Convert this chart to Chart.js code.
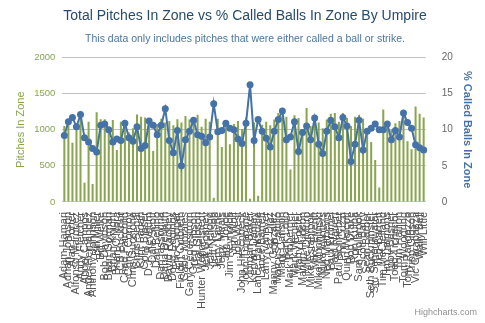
<!DOCTYPE html>
<html>
<head>
<meta charset="utf-8">
<script src="https://cdn.jsdelivr.net/npm/chart.js@4/dist/chart.umd.min.js"></script>
<style>
  html, body { margin: 0; padding: 0; background: #fff; }
  #wrap { width: 485px; height: 323px; position: relative; }
</style>
</head>
<body>
<div id="wrap"><canvas id="umpChart"></canvas></div>
<script>
'use strict';

// --- DATA ---
const umpires = [
    'Adam Hamari', 'Adrian Johnson', 'Alan Porter', 'Alfonso Marquez', 'Andy Fletcher',
    'Angel Campos', 'Angel Hernandez', 'Anthony Johnson', 'Bill Miller', 'Bill Welke',
    'Bob Davidson', 'Brian Gorman', 'Brian Knight', "Brian O'Nora", 'CB Bucknor',
    'Chad Fairchild', 'Chris Conroy', 'Chris Guccione', 'Chris Segal', 'Clint Fagan',
    'Cory Blaser', 'D.J. Reyburn', 'Dale Scott', 'Dan Bellino', 'Dan Iassogna',
    'Dana DeMuth', 'David Rackley', 'Doug Eddings', 'Eric Cooper', 'Fieldin Culbreth',
    'Gabe Morales', 'Gary Cederstrom', 'Greg Gibson', 'Hal Gibson', 'Hunter Wendelstedt',
    'Jeff Gosney', 'Jeff Kellogg', 'Jeff Nelson', 'Jerry Layne', 'Jerry Meals',
    'Jim Joyce', 'Jim Reynolds', 'Jim Wolf', 'Joe West', 'John Hirschbeck',
    'John Tumpane', 'Jordan Baker', 'Kerwin Danley', 'Lance Barksdale', 'Lance Barrett',
    'Larry Vanover', 'Laz Diaz', 'Manny Gonzalez', 'Marcus Pattillo', 'Mark Carlson',
    'Mark Lollo', 'Mark Ripperger', 'Mark Wegner', 'Marty Foster', 'Marvin Hudson',
    'Mike DiMuro', 'Mike Estabrook', 'Mike Everitt', 'Mike Muchlinski', 'Mike Winters',
    'Ned Mathews', 'Paul Emmel', 'Paul Nauert', 'Paul Schrieber', 'Phil Cuzzi',
    'Quinn Wolcott', 'Rob Drake', 'Ron Kulpa', 'Sam Holbrook', 'Scott Barry',
    'Sean Barber', 'Seth Buckminster', 'Stu Scheurwater', 'Ted Barrett', 'Tim McClelland',
    'Tim Timmons', 'Toby Basner', 'Todd Tichenor', 'Tom Hallion', 'Tom Woodring',
    'Tony Randazzo', 'Tripp Gibson', 'Vic Carapazza', 'Wally Bell', 'Will Little'
];

const pitchesInZone = [
    1050, 1150, 820, 1070, 1240, 265, 1110, 250, 1240, 1145,
    1145, 1030, 1135, 720, 1110, 1075, 960, 1020, 1210, 1180,
    1170, 1160, 706, 1080, 1150, 1100, 1120, 1060, 1145, 1100,
    1190, 1140, 1170, 1205, 1040, 1150, 1110, 60, 1150, 760,
    1130, 800, 1080, 1120, 1010, 1170, 45, 1100, 85, 1070,
    1110, 1060, 1140, 1230, 1190, 1180, 450, 1200, 1160, 1000,
    1300, 1050, 1135, 1100, 1020, 1140, 1220, 1230, 1110, 1230,
    1160, 1050, 1180, 1200, 1150, 1020, 830, 580, 200, 1280,
    1060, 1000, 1090, 1120, 1230, 840, 730, 1320, 1220, 1170
];

const calledBallPct = [
    9.2, 11.1, 11.7, 10.4, 12.1, 8.9, 8.3, 7.4, 6.9, 10.6,
    10.8, 10.0, 8.3, 8.7, 8.5, 10.9, 8.9, 8.4, 10.4, 7.4,
    7.8, 11.2, 10.6, 9.3, 10.6, 12.9, 8.5, 6.8, 9.9, 5.0,
    8.6, 9.8, 11.3, 9.3, 9.1, 8.2, 9.0, 13.6, 9.7, 9.9,
    10.9, 10.2, 10.0, 8.7, 8.1, 10.9, 16.2, 8.5, 11.4, 9.8,
    8.8, 7.6, 9.8, 11.4, 12.6, 8.6, 9.0, 11.1, 7.0, 9.6,
    10.5, 8.6, 11.6, 8.0, 6.7, 9.8, 11.3, 10.4, 8.9, 11.7,
    10.5, 5.6, 8.0, 11.3, 7.2, 9.8, 10.2, 10.8, 10.0, 10.0,
    10.8, 8.6, 9.9, 9.0, 12.3, 11.0, 10.2, 7.9, 7.5, 7.2
];

const pitchTicks = [0, 500, 1000, 1500, 2000];
const pctTicks = [0, 5, 10, 15, 20];

const FONT = '"Liberation Sans", Arial, sans-serif';

// "Highcharts.com" credit, bottom right
const creditsPlugin = {
    id: 'credits',
    afterDraw(chart) {
        const ctx = chart.ctx;
        ctx.save();
        ctx.font = '9px ' + FONT;
        ctx.fillStyle = '#909090';
        ctx.textAlign = 'right';
        ctx.textBaseline = 'alphabetic';
        ctx.fillText('Highcharts.com', chart.width - 8, chart.height - 8);
        ctx.restore();
    }
};

const ctx = document.getElementById('umpChart').getContext('2d');
new Chart(ctx, {
    type: 'bar',
    data: {
        labels: umpires,
        datasets: [
            {
                type: 'line',
                label: '% Called Balls In Zone',
                data: calledBallPct,
                yAxisID: 'y1',
                borderColor: '#4572A7',
                backgroundColor: '#4572A7',
                borderWidth: 2,
                pointRadius: 3.5,
                pointBackgroundColor: '#4572A7',
                pointBorderColor: '#4572A7',
                pointBorderWidth: 0,
                tension: 0,
                order: 0
            },
            {
                type: 'bar',
                label: 'Pitches In Zone',
                data: pitchesInZone,
                yAxisID: 'y',
                backgroundColor: '#89A54E',
                barPercentage: 0.5,
                categoryPercentage: 1,
                order: 1
            }
        ]
    },
    options: {
        responsive: true,
        maintainAspectRatio: false,
        animation: false,
        layout: { padding: { left: 14, right: 9, top: 0, bottom: 12 } },
        plugins: {
            legend: { display: false },
            tooltip: { enabled: false },
            title: {
                display: true,
                text: 'Total Pitches In Zone vs % Called Balls In Zone By Umpire',
                color: '#274b6d',
                font: { family: FONT, size: 14, weight: 'normal' },
                padding: { top: 8, bottom: 8 }
            },
            subtitle: {
                display: true,
                text: 'This data only includes pitches that were either called a ball or strike.',
                color: '#4d759e',
                font: { family: FONT, size: 10.5, weight: 'normal' },
                padding: { top: 0, bottom: 12 }
            }
        },
        scales: {
            x: {
                offset: true,
                grid: { display: false },
                border: { color: '#C0D0E0' },
                ticks: {
                    autoSkip: false,
                    minRotation: 90,
                    maxRotation: 90,
                    color: '#555',
                    padding: 2,
                    font: { family: FONT, size: 11 }
                }
            },
            y: {
                position: 'left',
                min: 0,
                max: 2000,
                afterBuildTicks: axis => { axis.ticks = pitchTicks.map(v => ({ value: v })); },
                grid: { color: '#C0C0C0', drawTicks: false },
                border: { display: false },
                ticks: {
                    color: '#89A54E',
                    padding: 7,
                    font: { family: FONT, size: 9.5 },
                    callback: v => String(v)
                },
                title: {
                    display: true,
                    text: 'Pitches In Zone',
                    color: '#89A54E',
                    font: { family: FONT, size: 11 },
                    padding: { top: 0, bottom: 0 }
                }
            },
            y1: {
                position: 'right',
                min: 0,
                max: 20,
                afterBuildTicks: axis => { axis.ticks = pctTicks.map(v => ({ value: v })); },
                grid: { display: false },
                border: { display: false },
                ticks: {
                    color: '#666',
                    padding: 8,
                    font: { family: FONT, size: 10 },
                    callback: v => String(v)
                },
                title: {
                    display: true,
                    text: '% Called Balls In Zone',
                    color: '#4572A7',
                    font: { family: FONT, size: 11, weight: 'bold' },
                    padding: { top: 2, bottom: 0 }
                }
            }
        }
    },
    plugins: [creditsPlugin]
});
</script>
</body>
</html>
